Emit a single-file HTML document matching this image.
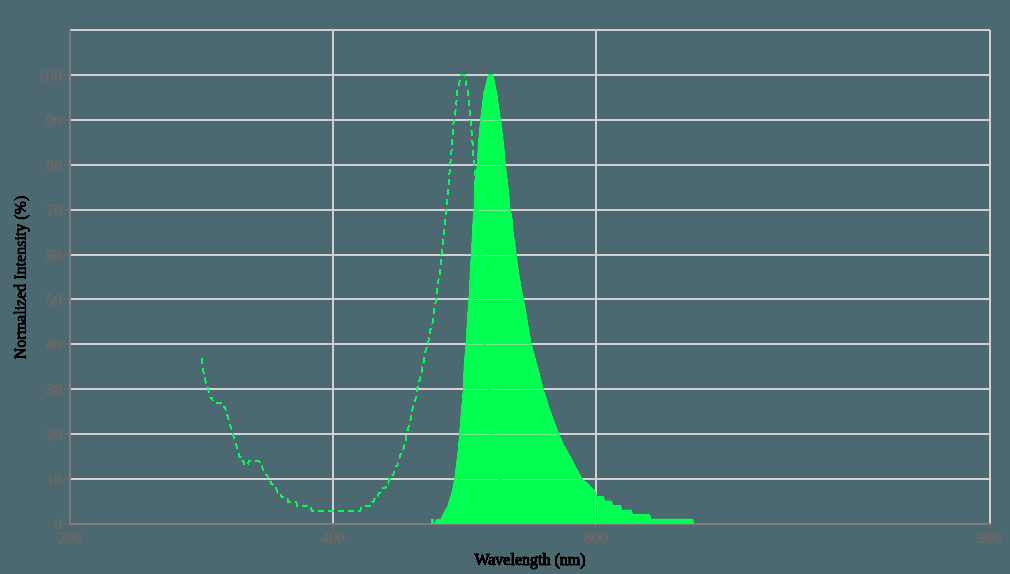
<!DOCTYPE html>
<html><head><meta charset="utf-8"><title>Spectrum</title>
<style>
html,body{margin:0;padding:0;background:#4c6870;}
body{width:1010px;height:574px;overflow:hidden;}
svg{display:block;}
text{font-family:"Liberation Serif",serif;font-size:16px;}
.lab{fill:#686868;stroke:#686868;stroke-width:0.85px;}
.ttl{fill:#000;stroke:#000;stroke-width:1.15px;}
.ttly{stroke-width:0.8px;}
</style></head><body>
<svg width="1010" height="574" viewBox="0 0 1010 574">
<rect width="1010" height="574" fill="#4c6870"/>
<defs><filter id="cr" x="-10%" y="-25%" width="120%" height="150%" color-interpolation-filters="sRGB"><feComponentTransfer><feFuncA type="linear" slope="4" intercept="-1.5"/></feComponentTransfer></filter></defs>
<defs><clipPath id="ca"><path d="M431.00,524.00 L431.00,519.30 L433.90,519.30 L434.60,524.80 L435.90,519.60 L440.60,519.30 L441.80,516.00 L443.90,512.00 L447.40,506.00 L451.60,492.00 L454.30,479.00 L456.00,465.00 L457.80,450.00 L459.20,434.00 L460.90,412.00 L463.00,389.00 L463.70,365.00 L465.70,343.70 L467.10,317.90 L468.50,299.00 L469.10,290.00 L469.90,270.80 L470.90,254.70 L472.00,233.10 L473.00,215.00 L473.70,209.70 L474.40,181.80 L476.90,165.10 L477.90,145.00 L480.20,119.40 L483.40,92.90 L488.30,74.20 L493.20,74.20 L497.10,92.90 L500.90,119.40 L504.10,145.00 L505.80,165.10 L507.90,181.80 L510.60,209.70 L512.70,220.00 L513.70,233.10 L516.60,254.70 L518.70,270.80 L522.90,295.00 L523.90,299.00 L527.10,317.90 L531.60,343.70 L537.40,365.00 L543.60,389.00 L550.20,410.00 L559.30,434.00 L564.10,445.00 L567.10,450.00 L582.50,479.00 L588.00,483.30 L592.00,487.60 L596.00,492.00 L596.80,496.00 L603.60,496.00 L604.90,500.60 L611.80,500.60 L613.10,505.00 L620.90,505.00 L622.20,509.80 L631.70,509.80 L633.00,514.20 L649.90,514.20 L651.20,518.80 L693.20,518.80 L693.80,524.00 Z"/></clipPath></defs>
<g stroke="#d0d0d0" stroke-width="2" fill="none">
<line x1="70" y1="30" x2="70" y2="524"/>
<line x1="333" y1="30" x2="333" y2="524"/>
<line x1="596" y1="30" x2="596" y2="524"/>
<line x1="990" y1="30" x2="990" y2="524"/>
<line x1="70" y1="524" x2="990" y2="524"/>
<line x1="70" y1="479" x2="990" y2="479"/>
<line x1="70" y1="434" x2="990" y2="434"/>
<line x1="70" y1="389" x2="990" y2="389"/>
<line x1="70" y1="344" x2="990" y2="344"/>
<line x1="70" y1="299" x2="990" y2="299"/>
<line x1="70" y1="255" x2="990" y2="255"/>
<line x1="70" y1="210" x2="990" y2="210"/>
<line x1="70" y1="165" x2="990" y2="165"/>
<line x1="70" y1="120" x2="990" y2="120"/>
<line x1="70" y1="75" x2="990" y2="75"/>
<line x1="70" y1="30" x2="990" y2="30"/>
</g>
<g stroke="#676767" stroke-width="2" fill="none">
<line x1="70" y1="524" x2="70" y2="530"/>
<line x1="333" y1="524" x2="333" y2="530"/>
<line x1="596" y1="524" x2="596" y2="530"/>
<line x1="990" y1="524" x2="990" y2="530"/>
<line x1="64" y1="524" x2="70" y2="524"/>
<line x1="64" y1="479" x2="70" y2="479"/>
<line x1="64" y1="434" x2="70" y2="434"/>
<line x1="64" y1="389" x2="70" y2="389"/>
<line x1="64" y1="344" x2="70" y2="344"/>
<line x1="64" y1="299" x2="70" y2="299"/>
<line x1="64" y1="255" x2="70" y2="255"/>
<line x1="64" y1="210" x2="70" y2="210"/>
<line x1="64" y1="165" x2="70" y2="165"/>
<line x1="64" y1="120" x2="70" y2="120"/>
<line x1="64" y1="75" x2="70" y2="75"/>
</g>
<g stroke="#7c7c7c" stroke-width="2" fill="none">
<line x1="70" y1="524" x2="990" y2="524"/>
<line x1="70" y1="30" x2="70" y2="525"/>
</g>
<path d="M431.00,524.00 L431.00,519.30 L433.90,519.30 L434.60,524.80 L435.90,519.60 L440.60,519.30 L441.80,516.00 L443.90,512.00 L447.40,506.00 L451.60,492.00 L454.30,479.00 L456.00,465.00 L457.80,450.00 L459.20,434.00 L460.90,412.00 L463.00,389.00 L463.70,365.00 L465.70,343.70 L467.10,317.90 L468.50,299.00 L469.10,290.00 L469.90,270.80 L470.90,254.70 L472.00,233.10 L473.00,215.00 L473.70,209.70 L474.40,181.80 L476.90,165.10 L477.90,145.00 L480.20,119.40 L483.40,92.90 L488.30,74.20 L493.20,74.20 L497.10,92.90 L500.90,119.40 L504.10,145.00 L505.80,165.10 L507.90,181.80 L510.60,209.70 L512.70,220.00 L513.70,233.10 L516.60,254.70 L518.70,270.80 L522.90,295.00 L523.90,299.00 L527.10,317.90 L531.60,343.70 L537.40,365.00 L543.60,389.00 L550.20,410.00 L559.30,434.00 L564.10,445.00 L567.10,450.00 L582.50,479.00 L588.00,483.30 L592.00,487.60 L596.00,492.00 L596.80,496.00 L603.60,496.00 L604.90,500.60 L611.80,500.60 L613.10,505.00 L620.90,505.00 L622.20,509.80 L631.70,509.80 L633.00,514.20 L649.90,514.20 L651.20,518.80 L693.20,518.80 L693.80,524.00 Z" fill="#00ff50" shape-rendering="crispEdges"/>
<g clip-path="url(#ca)" stroke="#dddddd" stroke-opacity="0.5" stroke-width="1" fill="none">
<line x1="430" y1="479.50" x2="700" y2="479.50"/>
<line x1="430" y1="434.50" x2="700" y2="434.50"/>
<line x1="430" y1="389.50" x2="700" y2="389.50"/>
<line x1="430" y1="344.50" x2="700" y2="344.50"/>
<line x1="430" y1="299.50" x2="700" y2="299.50"/>
<line x1="430" y1="255.50" x2="700" y2="255.50"/>
<line x1="430" y1="210.50" x2="700" y2="210.50"/>
<line x1="430" y1="165.50" x2="700" y2="165.50"/>
<line x1="430" y1="120.50" x2="700" y2="120.50"/>
<line x1="595.6" y1="480" x2="595.6" y2="524"/>
</g>
<path d="M431.00,524.00 L431.00,519.30 L433.90,519.30 L434.60,524.80 L435.90,519.60 L440.60,519.30 L441.80,516.00 L443.90,512.00 L447.40,506.00 L451.60,492.00 L454.30,479.00 L456.00,465.00 L457.80,450.00 L459.20,434.00 L460.90,412.00 L463.00,389.00 L463.70,365.00 L465.70,343.70 L467.10,317.90 L468.50,299.00 L469.10,290.00 L469.90,270.80 L470.90,254.70 L472.00,233.10 L473.00,215.00 L473.70,209.70 L474.40,181.80 L476.90,165.10 L477.90,145.00 L480.20,119.40 L483.40,92.90 L488.30,74.20 L493.20,74.20 L497.10,92.90 L500.90,119.40 L504.10,145.00 L505.80,165.10 L507.90,181.80 L510.60,209.70 L512.70,220.00 L513.70,233.10 L516.60,254.70 L518.70,270.80 L522.90,295.00 L523.90,299.00 L527.10,317.90 L531.60,343.70 L537.40,365.00 L543.60,389.00 L550.20,410.00 L559.30,434.00 L564.10,445.00 L567.10,450.00 L582.50,479.00 L588.00,483.30 L592.00,487.60 L596.00,492.00 L596.80,496.00 L603.60,496.00 L604.90,500.60 L611.80,500.60 L613.10,505.00 L620.90,505.00 L622.20,509.80 L631.70,509.80 L633.00,514.20 L649.90,514.20 L651.20,518.80 L693.20,518.80 L693.80,524.00" fill="none" stroke="#00ff50" stroke-width="4" clip-path="url(#ca)" shape-rendering="crispEdges"/>
<path d="M201.43,357.84 L202.74,366.82 L204.06,375.80 L205.37,380.29 L206.69,384.78 L208.00,389.27 L209.31,393.76 L210.63,398.25 L211.94,398.25 L213.26,402.75 L214.57,402.75 L215.89,402.75 L217.20,402.75 L218.51,402.75 L219.83,402.75 L221.14,402.75 L222.46,402.75 L223.77,407.24 L225.09,407.24 L226.40,411.73 L227.71,416.22 L229.03,420.71 L230.34,425.20 L231.66,429.69 L232.97,434.18 L234.29,438.67 L235.60,443.16 L236.91,447.65 L238.23,452.15 L239.54,456.64 L240.86,456.64 L242.17,461.13 L243.49,461.13 L244.80,465.62 L246.11,465.62 L247.43,465.62 L248.74,461.13 L250.06,461.13 L251.37,461.13 L252.69,461.13 L254.00,461.13 L255.31,461.13 L256.63,461.13 L257.94,461.13 L259.26,461.13 L260.57,465.62 L261.89,465.62 L263.20,470.11 L264.51,470.11 L265.83,474.60 L267.14,474.60 L268.46,479.09 L269.77,479.09 L271.09,483.58 L272.40,483.58 L273.71,488.07 L275.03,488.07 L276.34,488.07 L277.66,492.56 L278.97,492.56 L280.29,492.56 L281.60,497.05 L282.91,497.05 L284.23,497.05 L285.54,497.05 L286.86,497.05 L288.17,501.55 L289.49,501.55 L290.80,501.55 L292.11,501.55 L293.43,501.55 L294.74,501.55 L296.06,501.55 L297.37,506.04 L298.69,506.04 L300.00,506.04 L301.31,506.04 L302.63,506.04 L303.94,506.04 L305.26,506.04 L306.57,506.04 L307.89,506.04 L309.20,506.04 L310.51,506.04 L311.83,510.53 L313.14,510.53 L314.46,510.53 L315.77,510.53 L317.09,510.53 L318.40,510.53 L319.71,510.53 L321.03,510.53 L322.34,510.53 L323.66,510.53 L324.97,510.53 L326.29,510.53 L327.60,510.53 L328.91,510.53 L330.23,510.53 L331.54,510.53 L332.86,510.53 L334.17,510.53 L335.49,510.53 L336.80,510.53 L338.11,510.53 L339.43,510.53 L340.74,510.53 L342.06,510.53 L343.37,510.53 L344.69,510.53 L346.00,510.53 L347.31,510.53 L348.63,510.53 L349.94,510.53 L351.26,510.53 L352.57,510.53 L353.89,510.53 L355.20,510.53 L356.51,510.53 L357.83,510.53 L359.14,510.53 L360.46,510.53 L361.77,506.04 L363.09,506.04 L364.40,506.04 L365.71,506.04 L367.03,506.04 L368.34,506.04 L369.66,506.04 L370.97,506.04 L372.29,501.55 L373.60,501.55 L374.91,497.05 L376.23,497.05 L377.54,497.05 L378.86,492.56 L380.17,492.56 L381.49,492.56 L382.80,488.07 L384.11,488.07 L385.43,488.07 L386.74,483.58 L388.06,483.58 L389.37,479.09 L390.69,479.09 L392.00,474.60 L393.31,474.60 L394.63,470.11 L395.94,465.62 L397.26,465.62 L398.57,461.13 L399.89,456.64 L401.20,452.15 L402.51,452.15 L403.83,447.65 L405.14,443.16 L406.46,434.18 L407.77,429.69 L409.09,425.20 L410.40,420.71 L411.71,411.73 L413.03,407.24 L414.34,402.75 L415.66,398.25 L416.97,389.27 L418.29,384.78 L419.60,380.29 L420.91,375.80 L422.23,366.82 L423.54,362.33 L424.86,353.35 L426.17,348.85 L427.49,344.36 L428.80,339.87 L430.11,330.89 L431.43,326.40 L432.74,321.91 L434.06,308.44 L435.37,303.95 L436.69,294.96 L438.00,281.49 L439.31,277.00 L440.63,263.53 L441.94,250.05 L443.26,241.07 L444.57,227.60 L445.89,209.64 L447.20,200.65 L448.51,187.18 L449.83,169.22 L451.14,155.75 L452.46,137.78 L453.77,119.82 L455.09,115.33 L456.40,101.85 L457.71,88.38 L459.03,83.89 L460.34,79.40 L461.30,75.00 L464.60,75.00 L465.60,79.40 L466.91,88.38 L468.23,92.87 L469.54,110.84 L470.86,124.31 L472.17,137.78 L473.49,155.75 L474.80,169.22 L476.11,191.67 L477.43,214.13 L478.74,232.09 L480.06,254.55 L481.37,281.49 L482.69,303.95 L484.00,326.40 L485.31,348.85 L486.63,362.33 L487.94,375.80 L489.26,393.76 L490.57,407.24 L491.89,420.71 L493.20,434.18 L494.51,443.16 L495.83,452.15 L497.14,461.13 L498.46,470.11 L499.77,479.09 L501.09,483.58 L502.40,488.07 L503.71,488.07 L505.03,492.56 L506.34,497.05 L507.66,497.05 L508.97,501.55 L510.29,506.04 L511.60,506.04 L512.91,506.04 L514.23,510.53 L515.54,510.53 L516.86,510.53 L518.17,515.02 L519.49,515.02 L520.80,515.02 L522.11,515.02 L523.43,519.51 L524.74,519.51 L526.06,519.51 L527.37,519.51" fill="none" stroke="#00ff50" stroke-width="2" stroke-dasharray="6 4" shape-rendering="crispEdges"/>
<g class="lab" text-anchor="middle" filter="url(#cr)">
<text x="70" y="542.6">200</text>
<text x="333" y="542.6">400</text>
<text x="596" y="542.6">600</text>
<text x="990" y="542.6">900</text>
</g>
<g class="lab" text-anchor="end" filter="url(#cr)">
<text x="61.9" y="529.90">0</text>
<text x="61.9" y="484.90">10</text>
<text x="61.9" y="439.90">20</text>
<text x="61.9" y="394.90">30</text>
<text x="61.9" y="349.90">40</text>
<text x="61.9" y="304.90">50</text>
<text x="61.9" y="260.90">60</text>
<text x="61.9" y="215.90">70</text>
<text x="61.9" y="170.90">80</text>
<text x="61.9" y="125.90">90</text>
<text x="61.9" y="80.90">100</text>
</g>
<text class="ttl" filter="url(#cr)" text-anchor="middle" x="530" y="565">Wavelength (nm)</text>
<text class="ttl ttly" filter="url(#cr)" text-anchor="middle" transform="translate(25.8,277.5) rotate(-90)">Normalized Intensity (%)</text>
</svg>
</body></html>
